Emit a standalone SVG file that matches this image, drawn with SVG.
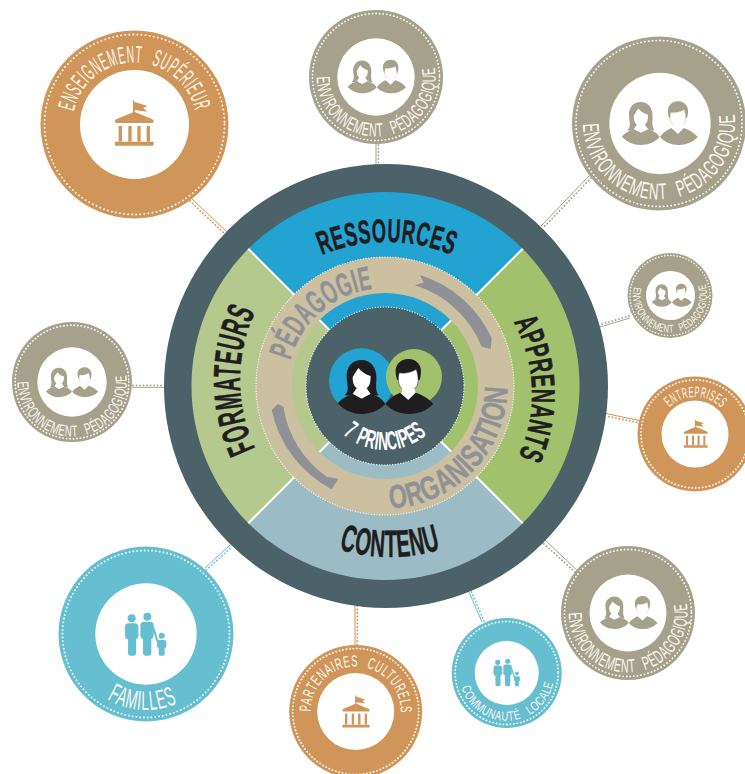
<svg xmlns="http://www.w3.org/2000/svg" xmlns:xlink="http://www.w3.org/1999/xlink" width="745" height="774" viewBox="0 0 745 774">
<style>
text{font-family:"Liberation Sans Narrow","Liberation Sans",Arial,sans-serif}
.lab{fill:#fbf8f0;letter-spacing:.07em;word-spacing:.55em}
.main{fill:#1f1d1e;font-weight:700;letter-spacing:.03em;stroke:#1f1d1e;stroke-width:.5}
.ring{fill:#8f9196;font-weight:700;letter-spacing:.02em;stroke:#8f9196;stroke-width:.4}
.dots{fill:none;stroke:#fff;stroke-width:1.8;stroke-linecap:round}
.inner{fill:#fff}
.orange{fill:#d09558;color:#d09558}
.grey{fill:#a5a18a;color:#a5a18a}
.teal{fill:#65bfd0;color:#65bfd0}
.sol{stroke-width:1;fill:none}
.dot{stroke-width:1.8;stroke-dasharray:.1 3.4;stroke-linecap:round;fill:none}
.co{stroke:#d09558}.cg{stroke:#a5a18a}.ct{stroke:#65bfd0}
</style>
<defs>
<g id="people">
<path fill="currentColor" d="M-71-80C-100-80-117-58-116-30C-115-5-106 12-122 26C-105 28-90 26-80 18L-50 18C-40 26-30 28-20 26C-32 10-26-8-27-30C-27-58-45-80-71-80Z"/>
<path fill="#fff" d="M-98-28C-92-40-85-50-80-56C-70-42-55-35-44-32C-44-5-50 8-71 8C-92 8-98-8-98-28Z"/>
<path fill="#fff" d="M-98 22L-84 2L-58 2L-44 22L-71 36Z"/>
<path fill="currentColor" d="M-143 50C-128 32-108 26-98 22L-71 36L-44 22C-25 28-10 35 0 52C-18 72-45 82-71 82C-100 82-125 70-143 50Z"/>
<path fill="currentColor" d="M69-83C45-83 30-65 31-45C31-35 34-25 36-20L42-20L44-40C55-38 80-42 92-50L97-20L103-20C108-35 108-50 105-60C98-75 85-84 69-83Z"/>
<path fill="#fff" stroke="currentColor" stroke-width="1.5" d="M42-42C58-38 80-44 93-52C100-30 100-12 95-2C88 8 78 12 68 12C56 12 46 5 42-5C38-18 38-30 42-42Z"/>
<path fill="#fff" d="M50 5L50 18L44 18L69 40L91 18L87 5Z"/>
<path fill="currentColor" d="M1 52C15 32 30 25 44 18L69 40L91 18C110 24 130 35 144 52C125 72 100 82 71 82C45 82 18 72 1 52Z"/>
</g>
<g id="bank" fill="currentColor">
<path d="M-4-70L-1-70L-1-65L39-52L27-46L39-35L2-40L2-35L-4-35Z"/>
<path d="M-58-6C-58-12-50-14-45-16L0-35L45-16C52-14 58-12 58-6Q58-1 54-1L-54-1Q-58-1-58-6Z"/>
<rect x="-47" y="8" width="10" height="47"/><rect x="-18" y="8" width="10" height="47"/><rect x="9" y="8" width="10" height="47"/><rect x="37" y="8" width="10" height="47"/>
<rect x="-58" y="55" width="116" height="12" rx="2"/>
</g>
<g id="family" fill="currentColor">
<circle cx="-42" cy="-50" r="12"/><circle cx="5" cy="-55" r="12"/><circle cx="48" cy="2" r="9"/>
<rect x="-62" y="-35" width="40" height="48" rx="11"/><rect x="-53" y="0" width="24" height="62" rx="7"/>
<rect x="-16" y="-40" width="40" height="52" rx="11"/><rect x="-8" y="0" width="25" height="62" rx="7"/>
<path d="M22-25L38 28" stroke="currentColor" stroke-width="6" fill="none" stroke-linecap="round"/>
<rect x="34" y="15" width="28" height="25" rx="7"/><rect x="39" y="30" width="18" height="32" rx="5"/>
</g>
<path id="pEns" d="M134.5 186.5A62 62 0 1 1 134.5 62.5A62 62 0 1 1 134.5 186.5"/>
<path id="pEnvT" d="M376 17.5A59.5 59.5 0 1 0 376 136.5A59.5 59.5 0 1 0 376 17.5"/>
<path id="pEnvR" d="M659 47.5A76 76 0 1 0 659 199.5A76 76 0 1 0 659 47.5"/>
<path id="pEnvS" d="M670 258.5A37 37 0 1 0 670 332.5A37 37 0 1 0 670 258.5"/>
<path id="pEnvL" d="M72 327.3A54.7 54.7 0 1 0 72 436.7A54.7 54.7 0 1 0 72 327.3"/>
<path id="pEnvB" d="M628 553.5A59.5 59.5 0 1 0 628 672.5A59.5 59.5 0 1 0 628 553.5"/>
<path id="pEnt" d="M695 471A37 37 0 1 1 695 397A37 37 0 1 1 695 471"/>
<path id="pCom" d="M506.7 625.3A47.7 47.7 0 1 0 506.7 720.7A47.7 47.7 0 1 0 506.7 625.3"/>
<path id="pPar" d="M355.7 756.5A45 45 0 1 1 355.7 666.5A45 45 0 1 1 355.7 756.5"/>
<path id="pFam" d="M146 558A76 76 0 1 0 146 710A76 76 0 1 0 146 558"/>
<path id="pRes" d="M387 582A170 170 0 1 1 387 242A170 170 0 1 1 387 582"/>
<path id="pFor" d="M402 542A162 162 0 1 1 402 218A162 162 0 1 1 402 542"/>
<path id="pApp" d="M382 544A150 150 0 1 1 382 244A150 150 0 1 1 382 544"/>
<path id="pCon" d="M390 205A176 176 0 1 0 390 557A176 176 0 1 0 390 205"/>
<path id="pPed" d="M385 484A98 98 0 1 1 385 288A98 98 0 1 1 385 484"/>
<path id="pOrg" d="M385 263.5A122.5 122.5 0 1 0 385 508.5A122.5 122.5 0 1 0 385 263.5"/>
<path id="p7" d="M385 322A64 64 0 1 0 385 450A64 64 0 1 0 385 322"/>
</defs>

<g id="connectors">
<path class="sol co" d="M192 199L227 232"/><path class="dot co" d="M190 201L225 234"/>
<path class="sol cg" d="M376 144V165"/><path class="dot cg" d="M378.4 145V165"/>
<path class="sol cg" d="M589 176L541 226"/><path class="dot cg" d="M591 178L543 228"/>
<path class="sol cg" d="M630 318L600 327"/><path class="dot cg" d="M629 316L599 325"/>
<path class="sol co" d="M640 420.7L605 413.3"/><path class="dot co" d="M640 423L606 416"/>
<path class="sol cg" d="M576.7 570L545 540"/><path class="dot cg" d="M575 572L543 543"/>
<path class="sol ct" d="M482 622L469 592"/><path class="dot ct" d="M484 621L471 591"/>
<path class="sol co" d="M355 606V646"/><path class="dot co" d="M357.3 606V646"/>
<path class="sol ct" d="M205 568L230 545"/><path class="dot ct" d="M206.5 570L231.5 547"/>
<path class="sol cg" d="M132 387.3H164"/><path class="dot cg" d="M133 385.3H164"/>
</g>

<g id="core">
<circle cx="386" cy="386" r="222" fill="#4a6268"/>
<path fill="#22a3d1" d="M385.5 386L248.3 248.8A194 194 0 0 1 522.7 248.8Z"/>
<path fill="#a2c16c" d="M385.5 386L522.7 248.8A194 194 0 0 1 522.7 523.2Z"/>
<path fill="#9bbcc4" d="M385.5 386L522.7 523.2A194 194 0 0 1 248.3 523.2Z"/>
<path fill="#b5c98e" d="M385.5 386L248.3 523.2A194 194 0 0 1 248.3 248.8Z"/>
<path stroke="#fff" stroke-width="2" fill="none" d="M248.3 248.8L522.7 523.2M522.7 248.8L248.3 523.2"/>
<circle cx="385" cy="386" r="111" fill="none" stroke="#cbc0a0" stroke-width="36"/>
<circle cx="385" cy="386" r="129" class="dots" stroke-dasharray=".1 2.6" style="stroke-width:1.2"/>
<path fill="#8f9196" d="M420 275A116.500 116.500 0 0 1 491.700 338.300L490.700 349L481.700 346.700A105 105 0 0 0 414.800 285.300L423.700 282.500Z"/>
<path fill="#8f9196" d="M271.700 410L278 404L283.300 406.700A105 105 0 0 0 326.700 476.700L338.300 479L331.700 489.300A116.500 116.500 0 0 1 271.700 410Z"/>
<text class="ring" font-size="33" transform="rotate(-41 385 386)"><textPath href="#pPed" startOffset="50%" text-anchor="middle" textLength="116" lengthAdjust="spacingAndGlyphs">PÉDAGOGIE</textPath></text>
<text class="ring" font-size="33" transform="rotate(-46 385 386)"><textPath href="#pOrg" startOffset="50%" text-anchor="middle" textLength="186" lengthAdjust="spacingAndGlyphs">ORGANISATION</textPath></text>
<circle cx="385" cy="386" r="79" fill="#4a6268"/>
<circle cx="385" cy="386" r="79" class="dots" stroke-dasharray=".1 2.6" style="stroke-width:1.2"/>
<circle cx="361.500" cy="380.700" r="32.500" fill="#22a3d1"/>
<circle cx="414" cy="377" r="28" fill="#a2c16c"/>
<use href="#people" transform="translate(385.300 386.700) scale(.3333)" style="color:#1f1d1e"/>
<text fill="#fff" font-weight="700" font-size="26" letter-spacing=".03em" word-spacing=".2em"><textPath href="#p7" startOffset="50%" text-anchor="middle" textLength="92" lengthAdjust="spacingAndGlyphs">7 PRINCIPES</textPath></text>
<text class="main" font-size="33"><textPath href="#pRes" startOffset="50%" text-anchor="middle" textLength="134" lengthAdjust="spacingAndGlyphs">RESSOURCES</textPath></text>
<text class="main" font-size="38" transform="rotate(-90 402 380)"><textPath href="#pFor" startOffset="50%" text-anchor="middle" textLength="142" lengthAdjust="spacingAndGlyphs">FORMATEURS</textPath></text>
<text class="main" font-size="33" transform="rotate(88 382 394)"><textPath href="#pApp" startOffset="50%" text-anchor="middle" textLength="140" lengthAdjust="spacingAndGlyphs">APPRENANTS</textPath></text>
<text class="main" font-size="38"><textPath href="#pCon" startOffset="50%" text-anchor="middle" textLength="104" lengthAdjust="spacingAndGlyphs">CONTENU</textPath></text>
</g>

<g id="enseignement" class="orange">
<circle cx="134.500" cy="124.500" r="94"/><circle cx="134.500" cy="124.500" r="90" class="dots" stroke-dasharray=".1 4"/><circle cx="134.500" cy="124.500" r="54.500" class="inner"/>
<use href="#bank" transform="translate(134.300 123.300) scale(.3333)"/>
<text class="lab" font-size="24"><textPath href="#pEns" startOffset="50%" text-anchor="middle" textLength="168" lengthAdjust="spacingAndGlyphs">ENSEIGNEMENT SUPÉRIEUR</textPath></text>
</g>
<g id="env-top" class="grey">
<circle cx="376" cy="77" r="67"/><circle cx="376" cy="77" r="63.500" class="dots" stroke-dasharray=".1 3.5"/><circle cx="376" cy="77" r="38.700" class="inner"/>
<use href="#people" transform="translate(376.700 76.700) scale(.203)"/>
<text class="lab" font-size="19" transform="rotate(-5 376 77)"><textPath href="#pEnvT" startOffset="50%" text-anchor="middle" textLength="197" lengthAdjust="spacingAndGlyphs">ENVIRONNEMENT PÉDAGOGIQUE</textPath></text>
</g>
<g id="env-right" class="grey">
<circle cx="659" cy="123.500" r="87"/><circle cx="659" cy="123.500" r="83" class="dots" stroke-dasharray=".1 3.7"/><circle cx="660" cy="123.500" r="50.700" class="inner"/>
<use href="#people" transform="translate(659.700 123.300) scale(.265)"/>
<text class="lab" font-size="23" transform="rotate(-4 659 123.500)"><textPath href="#pEnvR" startOffset="50%" text-anchor="middle" textLength="248" lengthAdjust="spacingAndGlyphs">ENVIRONNEMENT PÉDAGOGIQUE</textPath></text>
</g>
<g id="env-small" class="grey">
<circle cx="670" cy="295.500" r="42.500"/><circle cx="670" cy="295.500" r="40" class="dots" stroke-dasharray=".1 3" style="stroke-width:1.5"/><circle cx="670.500" cy="295.500" r="24.500" class="inner"/>
<use href="#people" transform="translate(671.700 295.300) scale(.139)"/>
<text class="lab" font-size="11" transform="rotate(-3 670 295.500)"><textPath href="#pEnvS" startOffset="50%" text-anchor="middle" textLength="137" lengthAdjust="spacingAndGlyphs">ENVIRONNEMENT PÉDAGOGIQUE</textPath></text>
</g>
<g id="entreprises" class="orange">
<circle cx="695" cy="434" r="57.500"/><circle cx="695" cy="434" r="54" class="dots" stroke-dasharray=".1 3.4"/><circle cx="695" cy="434" r="33.500" class="inner"/>
<use href="#bank" transform="translate(695.700 434) scale(.206)"/>
<text class="lab" font-size="15" transform="rotate(1 695 434)"><textPath href="#pEnt" startOffset="50%" text-anchor="middle" textLength="58" lengthAdjust="spacingAndGlyphs">ENTREPRISES</textPath></text>
</g>
<g id="env-bottom-right" class="grey">
<circle cx="628" cy="613" r="67"/><circle cx="628" cy="613" r="63.500" class="dots" stroke-dasharray=".1 3.5"/><circle cx="628" cy="613" r="38.500" class="inner"/>
<use href="#people" transform="translate(628.700 612.600) scale(.2)"/>
<text class="lab" font-size="19" transform="rotate(-5 628 613)"><textPath href="#pEnvB" startOffset="50%" text-anchor="middle" textLength="197" lengthAdjust="spacingAndGlyphs">ENVIRONNEMENT PÉDAGOGIQUE</textPath></text>
</g>
<g id="communaute" class="teal">
<circle cx="506.700" cy="673" r="55"/><circle cx="506.700" cy="673" r="51.500" class="dots" stroke-dasharray=".1 3.4"/><circle cx="506.700" cy="673" r="32" class="inner"/>
<use href="#family" transform="translate(506.700 673) scale(.213)"/>
<text class="lab" font-size="13" transform="rotate(-3 506.700 673)"><textPath href="#pCom" startOffset="50%" text-anchor="middle" textLength="125" lengthAdjust="spacingAndGlyphs">COMMUNAUTÉ LOCALE</textPath></text>
</g>
<g id="partenaires" class="orange">
<circle cx="355.700" cy="711.500" r="66.500"/><circle cx="355.700" cy="711.500" r="63" class="dots" stroke-dasharray=".1 3.4"/><circle cx="355.700" cy="711.500" r="38.500" class="inner"/>
<use href="#bank" transform="translate(356 711.700) scale(.235)"/>
<text class="lab" font-size="16" transform="rotate(1 355.700 711.500)"><textPath href="#pPar" startOffset="50%" text-anchor="middle" textLength="143" lengthAdjust="spacingAndGlyphs">PARTENAIRES CULTURELS</textPath></text>
</g>
<g id="familles" class="teal">
<circle cx="146" cy="634" r="87.500"/><circle cx="146" cy="634" r="83.500" class="dots" stroke-dasharray=".1 3.7"/><circle cx="146" cy="634" r="50.700" class="inner"/>
<use href="#family" transform="translate(145.700 635) scale(.3333)"/>
<text class="lab" font-size="27" transform="rotate(3 146 634)"><textPath href="#pFam" startOffset="50%" text-anchor="middle" textLength="74" lengthAdjust="spacingAndGlyphs">FAMILLES</textPath></text>
</g>
<g id="env-left" class="grey">
<circle cx="72" cy="382" r="60"/><circle cx="72" cy="382" r="56.800" class="dots" stroke-dasharray=".1 3.4"/><circle cx="72" cy="382" r="34.700" class="inner"/>
<use href="#people" transform="translate(72 382.400) scale(.182)"/>
<text class="lab" font-size="16" transform="rotate(-4 72 382)"><textPath href="#pEnvL" startOffset="50%" text-anchor="middle" textLength="179" lengthAdjust="spacingAndGlyphs">ENVIRONNEMENT PÉDAGOGIQUE</textPath></text>
</g>
</svg>
